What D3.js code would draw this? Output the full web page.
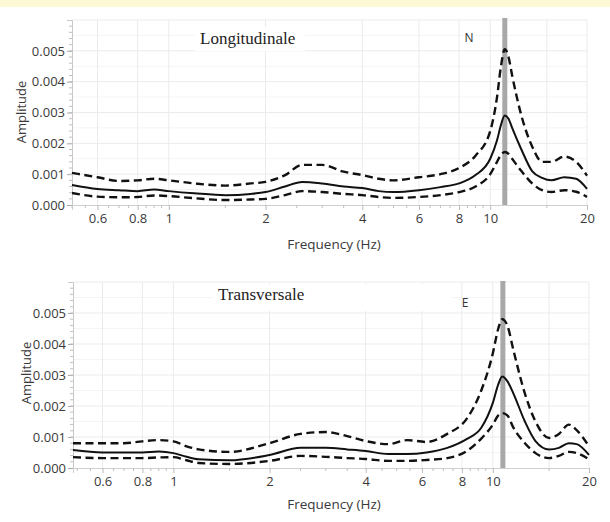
<!DOCTYPE html>
<html><head><meta charset="utf-8">
<script src="https://d3js.org/d3.v7.min.js"></script>
<style>body{margin:0;background:#fff}svg{display:block}</style>
</head><body>
<svg id="c" width="610" height="522"></svg>
<script>
// ---- data ----
const xTickValues = [0.6, 0.8, 1, 2, 4, 6, 8, 10, 20];
const xMinorTicks = [0.5,0.55,0.65,0.7,0.75,0.85,0.9,0.95,1.5,2.5,3,3.5,4.5,5,5.5,6.5,7,7.5,8.5,9,9.5,15];
const yTickValues = [0, 0.001, 0.002, 0.003, 0.004, 0.005];

const freqL  = [0.5,0.6,0.7,0.8,0.9,1.0,1.2,1.5,1.8,2.0,2.3,2.6,3.0,3.5,4.0,4.5,5.0,6.0,7.0,8.0,9.0,10.0,10.5,10.8,11.1,11.4,11.7,12.5,13.5,14.5,15.5,17.0,18.5,20];
const meanL  = [0.00065,0.00052,0.00048,0.00045,0.0005,0.00045,0.00038,0.00032,0.00036,0.00042,0.0006,0.00075,0.0007,0.0006,0.00055,0.00045,0.00042,0.00048,0.00058,0.0007,0.00097,0.0015,0.0021,0.0026,0.0029,0.0028,0.0025,0.0018,0.0011,0.00088,0.0008,0.0009,0.00085,0.00052];
const upperL = [0.00104,0.0009,0.00078,0.0008,0.00085,0.0008,0.0007,0.00063,0.0007,0.00075,0.00097,0.0013,0.0013,0.00108,0.00097,0.00085,0.0008,0.0009,0.001,0.0012,0.0016,0.0024,0.0035,0.0045,0.00505,0.0048,0.0042,0.0029,0.0019,0.0014,0.0014,0.00157,0.0014,0.00095];
const lowerL = [0.00039,0.00027,0.00025,0.00026,0.00031,0.00029,0.00022,0.00016,0.00018,0.0002,0.00032,0.00045,0.00042,0.00036,0.00032,0.00026,0.00023,0.00026,0.00032,0.00042,0.0006,0.001,0.0014,0.00163,0.00172,0.00166,0.0015,0.0011,0.0007,0.00048,0.00042,0.00048,0.00043,0.00026];

const freqT  = [0.485,0.6,0.7,0.8,0.9,1.0,1.1,1.2,1.5,2.0,2.5,3.0,3.5,4.0,4.7,5.4,6.2,7.2,8.3,9.2,10.0,10.4,10.7,11.1,11.6,12.6,13.6,15.0,16.1,17.3,18.3,20];
const meanT  = [0.00058,0.0005,0.0005,0.0005,0.00053,0.00048,0.00036,0.00028,0.00025,0.00042,0.00065,0.00065,0.0006,0.00055,0.00045,0.00045,0.0005,0.00065,0.00094,0.0013,0.0021,0.0027,0.00295,0.0028,0.0024,0.0015,0.00087,0.0006,0.00065,0.0008,0.00077,0.00042];
const upperT = [0.0008,0.0008,0.0008,0.00086,0.0009,0.00086,0.0007,0.0006,0.00052,0.0008,0.0011,0.00116,0.00103,0.00087,0.00077,0.0009,0.00084,0.0011,0.0016,0.0025,0.0037,0.0045,0.0048,0.0046,0.0038,0.0024,0.0015,0.00097,0.0011,0.0014,0.00122,0.0007];
const lowerT = [0.00035,0.00032,0.00032,0.00032,0.00034,0.00035,0.00025,0.00016,0.00013,0.00023,0.00039,0.00036,0.00032,0.00029,0.00023,0.00023,0.00026,0.00032,0.00055,0.00095,0.0014,0.0017,0.00177,0.0017,0.0013,0.0008,0.00048,0.00032,0.00039,0.00052,0.00048,0.00028];

const panels = [
  {title:"Longitudinale", mark:"N", peak:11.1, xDom:[0.5,20], xR:[72,587], yR:[205,20],
   freq:freqL, mean:meanL, upper:upperL, lower:lowerL,
   titleX:200, titleY:44, box:[195,27,110,24], markX:469, markY:42, amp:[22,112], xlabY:249, barTop:18},
  {title:"Transversale", mark:"E", peak:10.75, xDom:[0.485,20], xR:[73,589], yR:[468,282],
   freq:freqT, mean:meanT, upper:upperT, lower:lowerT,
   titleX:218, titleY:300, box:[212,284,240,27], markX:465, markY:307, amp:[27,373], xlabY:509, barTop:281}
];

const svg = d3.select("#c");
svg.append("rect").attr("x",0).attr("y",0).attr("width",610).attr("height",7).attr("fill","#fdf9d4");

const tickFont = "'Open Sans', 'DejaVu Sans', sans-serif";

panels.forEach(p => {
  const x = d3.scaleLog().domain(p.xDom).range(p.xR);
  const y = d3.scaleLinear().domain([0,0.006]).range(p.yR);
  const g = svg.append("g");
  const top = p.yR[1], bot = p.yR[0], left = p.xR[0], right = p.xR[1];

  // grid
  const hGrid = d3.range(0.0005, 0.0061, 0.0005);
  g.selectAll(".hg").data(hGrid).join("line")
    .attr("x1",left).attr("x2",right).attr("y1",d=>y(d)).attr("y2",d=>y(d))
    .attr("stroke",(d,i)=> i%2 ? "#ebebeb" : "#f4f4f4").attr("stroke-width",1);
  g.selectAll(".vg").data(xTickValues.concat([15])).join("line")
    .attr("x1",d=>x(d)).attr("x2",d=>x(d)).attr("y1",top).attr("y2",bot)
    .attr("stroke","#ebebeb").attr("stroke-width",1);

  // title box
  g.append("rect").attr("x",p.box[0]).attr("y",p.box[1]).attr("width",p.box[2]).attr("height",p.box[3]).attr("fill","#fff");
  g.append("text").attr("x",p.titleX).attr("y",p.titleY)
    .attr("font-family","'Liberation Serif','Times New Roman',serif").attr("font-size",17)
    .attr("fill","#222").text(p.title);

  // peak bar
  g.append("rect").attr("x",x(p.peak)-2.5).attr("y",p.barTop).attr("width",5).attr("height",bot-p.barTop)
    .attr("fill","#a8a8a8");
  g.append("text").attr("x",p.markX).attr("y",p.markY).attr("text-anchor","middle")
    .attr("font-family",tickFont).attr("font-size",12).attr("fill","#333").text(p.mark);

  // y axis
  const yAx = d3.axisLeft(y).tickValues(yTickValues).tickFormat(d3.format(".3f")).tickSize(5).tickPadding(2);
  const ya = g.append("g").attr("transform",`translate(${left},0)`).call(yAx);
  ya.select(".domain").attr("stroke","#c8c8c8");
  ya.selectAll(".tick line").attr("stroke","#aaa");
  ya.selectAll("text").attr("font-family",tickFont).attr("font-size",13).attr("fill","#3a3a3a");
  const yMinor = d3.range(0.0002, 0.0059, 0.0002);
  g.selectAll(".ym").data(yMinor).join("line")
    .attr("x1",left-3).attr("x2",left).attr("y1",d=>y(d)).attr("y2",d=>y(d))
    .attr("stroke","#c0c0c0");

  // x axis
  const xAx = d3.axisBottom(x).tickValues(xTickValues).tickFormat(d3.format("")).tickSize(5).tickPadding(4);
  const xa = g.append("g").attr("transform",`translate(0,${bot})`).call(xAx);
  xa.select(".domain").attr("stroke","#d0d0d0");
  xa.selectAll(".tick line").attr("stroke","#bbb");
  xa.selectAll("text").attr("font-family",tickFont).attr("font-size",13).attr("fill","#3a3a3a");
  g.selectAll(".xm").data(xMinorTicks.filter(d=>d>=p.xDom[0])).join("line")
    .attr("x1",d=>x(d)).attr("x2",d=>x(d)).attr("y1",bot).attr("y2",bot+3)
    .attr("stroke","#c0c0c0");

  g.append("text").attr("x",334).attr("y",p.xlabY).attr("text-anchor","middle")
    .attr("font-family",tickFont).attr("font-size",13.5).attr("fill","#3a3a3a").text("Frequency (Hz)");
  g.append("text").attr("transform",`translate(${p.amp[0]+4},${p.amp[1]}) rotate(-90)`)
    .attr("text-anchor","middle").attr("font-family",tickFont).attr("font-size",13).attr("fill","#3a3a3a").text("Amplitude");

  // lines
  const line = d3.line().x(d=>x(d[0])).y(d=>y(d[1])).curve(d3.curveMonotoneX);
  const mk = arr => p.freq.map((f,i)=>[f,arr[i]]);
  g.append("path").attr("d",line(mk(p.upper))).attr("fill","none").attr("stroke","#111")
    .attr("stroke-width",2.4).attr("stroke-dasharray","8,4.5");
  g.append("path").attr("d",line(mk(p.lower))).attr("fill","none").attr("stroke","#111")
    .attr("stroke-width",2.4).attr("stroke-dasharray","8,4.5");
  g.append("path").attr("d",line(mk(p.mean))).attr("fill","none").attr("stroke","#111")
    .attr("stroke-width",2);
});
</script>
</body></html>
